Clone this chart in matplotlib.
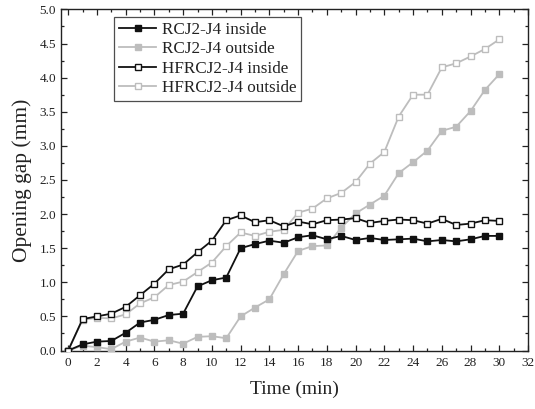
import matplotlib
matplotlib.use("Agg")
import matplotlib.pyplot as plt
from matplotlib.ticker import MultipleLocator, FormatStrFormatter

plt.rcParams['font.family'] = ['Liberation Serif', 'DejaVu Serif']

time_min = list(range(0, 31))

rc_inside = [0, 0.09, 0.13, 0.14, 0.26, 0.41, 0.45, 0.52, 0.54, 0.94, 1.03, 1.07,
             1.50, 1.56, 1.61, 1.58, 1.66, 1.69, 1.63, 1.68, 1.62, 1.65, 1.62, 1.63,
             1.64, 1.60, 1.62, 1.60, 1.63, 1.68, 1.68]
rc_outside = [0, 0.07, 0.05, 0.02, 0.13, 0.19, 0.13, 0.15, 0.10, 0.20, 0.21, 0.18,
              0.50, 0.63, 0.75, 1.12, 1.46, 1.53, 1.54, 1.80, 2.01, 2.14, 2.27, 2.60,
              2.76, 2.93, 3.22, 3.28, 3.51, 3.82, 4.05]
hf_inside = [0, 0.46, 0.50, 0.54, 0.64, 0.81, 0.98, 1.19, 1.26, 1.44, 1.61, 1.91,
             1.98, 1.88, 1.91, 1.82, 1.89, 1.85, 1.91, 1.92, 1.94, 1.87, 1.90, 1.92,
             1.91, 1.86, 1.93, 1.84, 1.86, 1.91, 1.90]
hf_outside = [0, 0.45, 0.48, 0.47, 0.53, 0.69, 0.78, 0.96, 1.01, 1.15, 1.29, 1.53,
              1.73, 1.68, 1.74, 1.77, 2.02, 2.08, 2.23, 2.31, 2.47, 2.74, 2.91, 3.43,
              3.75, 3.75, 4.15, 4.21, 4.31, 4.42, 4.56]

labels = ["RCJ2-J4 inside", "RCJ2-J4 outside", "HFRCJ2-J4 inside", "HFRCJ2-J4 outside"]

BLACK = '#111111'
GRAY = '#bdbdbd'

fig = plt.figure(figsize=(5.35, 4.09), dpi=100)
ax = fig.add_axes([0.114, 0.143, 0.873, 0.834])

ms = 4.5
lw = 1.3
ax.plot(time_min, rc_inside, color=BLACK, lw=lw, marker='s', ms=ms,
        mfc=BLACK, mec=BLACK, label=labels[0], zorder=4)
ax.plot(time_min, rc_outside, color=GRAY, lw=lw, marker='s', ms=ms,
        mfc=GRAY, mec=GRAY, label=labels[1], zorder=3)
ax.plot(time_min, hf_inside, color=BLACK, lw=lw, marker='s', ms=ms,
        mfc='white', mec=BLACK, mew=1.0, label=labels[2], zorder=4)
ax.plot(time_min, hf_outside, color=GRAY, lw=lw, marker='s', ms=ms,
        mfc='white', mec=GRAY, mew=1.0, label=labels[3], zorder=3)

ax.set_xlim(-0.5, 32)
ax.set_ylim(0, 5.0)
ax.xaxis.set_major_locator(MultipleLocator(2))
ax.xaxis.set_minor_locator(MultipleLocator(1))
ax.yaxis.set_major_locator(MultipleLocator(0.5))
ax.yaxis.set_minor_locator(MultipleLocator(0.25))
ax.yaxis.set_major_formatter(FormatStrFormatter('%.1f'))

ax.tick_params(which='both', direction='in', top=True, right=True,
               labelsize=9.5, width=0.9, colors='#222222')
ax.tick_params(which='major', length=4)
ax.tick_params(which='minor', length=2)
ax.tick_params(axis='x', pad=5)
for s in ax.spines.values():
    s.set_linewidth(1.0)
    s.set_color('#222222')

ax.set_xlabel("Time (min)", fontsize=14, color='#222222', labelpad=8)
ax.set_ylabel("Opening gap (mm)", fontsize=15.5, color='#222222', labelpad=5)

leg = ax.legend(loc='upper left', bbox_to_anchor=(0.113, 0.978), borderaxespad=0,
                fontsize=12.3, frameon=True, fancybox=False, edgecolor='#222222',
                handlelength=2.2, handletextpad=0.3, labelspacing=0.2,
                borderpad=0.3)
leg.get_frame().set_linewidth(0.9)
for t in leg.get_texts():
    t.set_color('#222222')

fig.savefig("out.png", dpi=100)
